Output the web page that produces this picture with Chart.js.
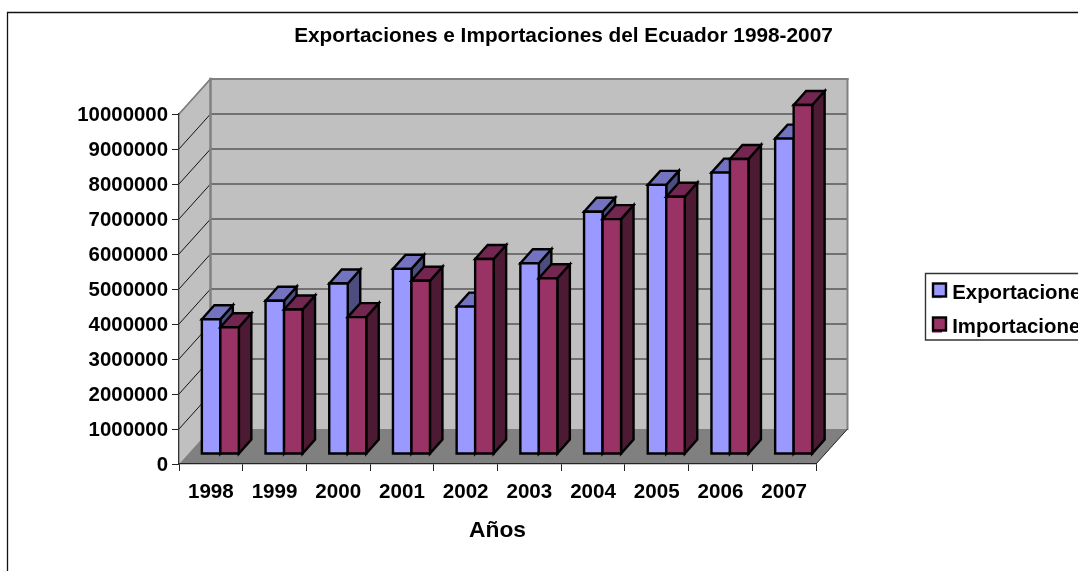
<!DOCTYPE html>
<html>
<head>
<meta charset="utf-8">
<script src="https://cdn.jsdelivr.net/npm/chart.js@4"></script>
<style>html,body{margin:0;padding:0;background:#fff;overflow:hidden}canvas{display:block}</style>
</head>
<body>
<canvas id="c" width="1078" height="571"></canvas>
<script>
const categories = ['1998','1999','2000','2001','2002','2003','2004','2005','2006','2007'];
const exportaciones = [3850000,4380000,4870000,5290000,4210000,5450000,6920000,7690000,8040000,9010000];
const importaciones = [3620000,4130000,3910000,4950000,5570000,5020000,6710000,7350000,8430000,9970000];
const tickStep = 1000000;
const FONT = '"Liberation Sans", Arial, sans-serif';
const WALL = {dx:31.5, dy:-35};
const BAR_SHIFT = {dx:9.5, dy:-10};
const BAR_DEPTH = {dx:12.5, dy:-14};
const EDGE = 2.4;
const faceColors = [{top:'#7373BF',side:'#4D4D80',front:'#9999FF'},{top:'#732650',side:'#4D1A33',front:'#993366'}];

function poly(ctx, pts, fill, stroke, lw){
  ctx.beginPath();
  pts.forEach((p,i)=> i?ctx.lineTo(p[0],p[1]):ctx.moveTo(p[0],p[1]));
  ctx.closePath();
  if(fill){ctx.fillStyle=fill;ctx.fill();}
  if(stroke){ctx.strokeStyle=stroke;ctx.lineWidth=lw;ctx.lineJoin='miter';ctx.stroke();}
}
function line(ctx,x1,y1,x2,y2,c,lw){
  ctx.beginPath();ctx.moveTo(x1,y1);ctx.lineTo(x2,y2);ctx.strokeStyle=c;ctx.lineWidth=lw;ctx.stroke();
}
const scene = {
  id:'scene',
  afterLayout(chart){
    const t=chart.titleBlock;
    t.left=63.5; t.right=1063.5; t.top=26; t.bottom=46; t.width=1000;
    const l=chart.legend;
    l.left=918; l.right=1078; l.top=269; l.bottom=460; l.width=160; l.height=191;
  },
  beforeDraw(chart){
    const ctx=chart.ctx, a=chart.chartArea, y=chart.scales.y;
    ctx.save();
    ctx.fillStyle='#fff';ctx.fillRect(0,0,chart.width,chart.height);
    // outer frame
    ctx.beginPath();ctx.moveTo(7.5,571);ctx.lineTo(7.5,12.5);ctx.lineTo(1078,12.5);
    ctx.strokeStyle='#111';ctx.lineWidth=1.3;ctx.stroke();
    // walls
    const bx=a.left+WALL.dx, rx=a.right+WALL.dx, ty=a.top+WALL.dy, by=a.bottom+WALL.dy;
    poly(ctx,[[bx,ty],[rx,ty],[rx,by],[bx,by]],'#C0C0C0');
    poly(ctx,[[a.left,a.top],[bx,ty],[bx,by],[a.left,a.bottom]],'#C0C0C0');
    poly(ctx,[[a.left,a.bottom],[a.right,a.bottom],[rx,by],[bx,by]],'#808080');
    // gridlines
    for(let v=tickStep;v<=y.max;v+=tickStep){
      const p=y.getPixelForValue(v);
      line(ctx,a.left,p,bx,p+WALL.dy,'#111',1);
      line(ctx,bx,p+WALL.dy,rx,p+WALL.dy,'#222',1.2);
    }
    // wall borders
    ctx.lineCap='square';
    line(ctx,a.left,a.top,bx,ty,'#808080',1.6);
    line(ctx,bx,ty,rx,ty,'#808080',2);
    line(ctx,bx,ty,bx,by,'#808080',2.5);
    line(ctx,rx,ty,rx,by,'#808080',2);
    ctx.lineCap='butt';
    line(ctx,a.right,a.bottom,rx,by,'#222',1);
    // legend frame
    ctx.beginPath();ctx.moveTo(1078,273.5);ctx.lineTo(925.5,273.5);ctx.lineTo(925.5,340);ctx.lineTo(1078,340);
    ctx.strokeStyle='#333';ctx.lineWidth=1.4;ctx.stroke();
    ctx.restore();
  },
  beforeDatasetDraw(){ return false; },
  afterDatasetsDraw(chart){
    const ctx=chart.ctx, D=BAR_DEPTH;
    ctx.save();
    ctx.translate(BAR_SHIFT.dx,BAR_SHIFT.dy);
    [0,1].forEach(i=>{
      const meta=chart.getDatasetMeta(i), c=faceColors[i];
      meta.data.forEach(b=>{
        const l=b.x-b.width/2, r=b.x+b.width/2, t=b.y, bt=b.base;
        poly(ctx,[[r,t],[r+D.dx,t+D.dy],[r+D.dx,bt+D.dy],[r,bt]],c.side,'#000',EDGE);
        poly(ctx,[[l,t],[l+D.dx,t+D.dy],[r+D.dx,t+D.dy],[r,t]],c.top,'#000',EDGE);
      });
      meta.controller.draw();
      meta.data.forEach(b=>{
        const l=b.x-b.width/2, r=b.x+b.width/2, t=b.y, bt=b.base;
        poly(ctx,[[l,t],[r,t],[r,bt],[l,bt]],null,'#000',EDGE);
      });
    });
    ctx.restore();
  },
  afterDraw(chart){
    const ctx=chart.ctx;
    ctx.save();
    [283.5,317.5].forEach((yy,i)=>{
      ctx.fillStyle=faceColors[i].front;ctx.strokeStyle='#000';ctx.lineWidth=2.4;
      ctx.fillRect(933,yy,13,13);ctx.strokeRect(933,yy,13,13);
    });
    ctx.restore();
  }
};
new Chart(document.getElementById('c'),{
  type:'bar',
  data:{labels:categories,datasets:[
    {label:'Exportaciones',data:exportaciones,backgroundColor:faceColors[0].front,borderWidth:0,barThickness:18.5},
    {label:'Importaciones',data:importaciones,backgroundColor:faceColors[1].front,borderWidth:0,barThickness:18.5}
  ]},
  options:{
    responsive:false,animation:false,
    layout:{padding:{left:0,right:262,top:94,bottom:27}},
    plugins:{
      tooltip:{enabled:false},
      title:{display:true,text:'Exportaciones e Importaciones del Ecuador 1998-2007',color:'#000',padding:0,
        font:{family:FONT,weight:'bold',size:20.8,lineHeight:'20px'}},
      legend:{position:'chartArea',align:'start',
        labels:{boxWidth:10,boxHeight:10,padding:14,color:'#000',font:{family:FONT,weight:'bold',size:20.4},
          sort:(a,b)=>a.datasetIndex-b.datasetIndex}}
    },
    scales:{
      x:{
        afterFit(s){s.height=80;},
        grid:{drawOnChartArea:false,tickLength:7,color:'#222'},
        border:{color:'#222',width:1.3},
        ticks:{color:'#000',padding:9,maxRotation:0,font:{family:FONT,weight:'bold',size:20.6}},
        title:{display:true,text:'Años',color:'#000',padding:{top:0,bottom:0},font:{family:FONT,weight:'bold',size:22.8}}
      },
      y:{
        min:0,max:10000000,
        afterFit(s){s.width=179;},
        grid:{drawOnChartArea:false,tickLength:7,color:'#222'},
        border:{color:'#333',width:1.3},
        ticks:{stepSize:tickStep,color:'#000',padding:4,labelOffset:1,font:{family:FONT,weight:'bold',size:20.4},callback:v=>String(v)}
      }
    }
  },
  plugins:[scene]
});
</script>
</body>
</html>
